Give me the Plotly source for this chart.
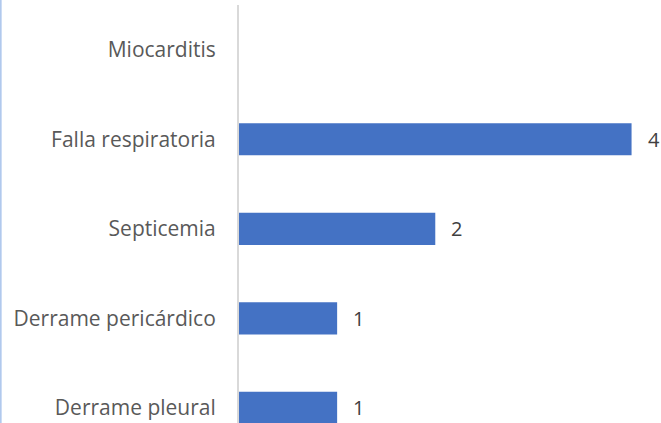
import plotly.graph_objects as go

causes = ["Derrame pleural", "Derrame pericárdico", "Septicemia", "Falla respiratoria", "Miocarditis"]
counts = [1, 1, 2, 4, None]

left = 239
width, height = 661, 423
plot_w = width - left

fig = go.Figure(
    go.Bar(
        x=counts,
        y=causes,
        orientation="h",
        marker=dict(color="#4472C4", line=dict(width=0)),
        width=0.36,
        hoverinfo="skip",
    )
)

for c, v in zip(causes, counts):
    if v is None:
        continue
    fig.add_annotation(
        x=v, y=c, text=str(v), showarrow=False,
        xanchor="left", xshift=14,
        font=dict(family="Open Sans", size=20, color="#404040"),
    )

# thin light-blue edge on the far left of the picture
fig.add_shape(
    type="line", xref="paper", yref="paper",
    x0=-left / plot_w + 0.002, x1=-left / plot_w + 0.002, y0=0, y1=1.02,
    line=dict(color="#a9c4ec", width=1.5),
)

fig.update_layout(
    width=width,
    height=height,
    margin=dict(l=left, r=0, t=5, b=0),
    paper_bgcolor="white",
    plot_bgcolor="white",
    showlegend=False,
    font=dict(family="Open Sans", size=21, color="#595959"),
)
fig.update_xaxes(range=[0, 4.3], visible=False)
fig.update_yaxes(
    type="category",
    categoryorder="array",
    categoryarray=causes,
    range=[-0.17, 4.5],
    showline=True,
    linecolor="#d9d9d9",
    linewidth=2,
    showgrid=False,
    zeroline=False,
    ticks="",
    ticklabelstandoff=17,
    tickfont=dict(family="Open Sans", size=21, color="#595959"),
)

fig.write_html(
    "out.html",
    config={"displayModeBar": False},
    post_script="document.body.style.margin='0';",
)
